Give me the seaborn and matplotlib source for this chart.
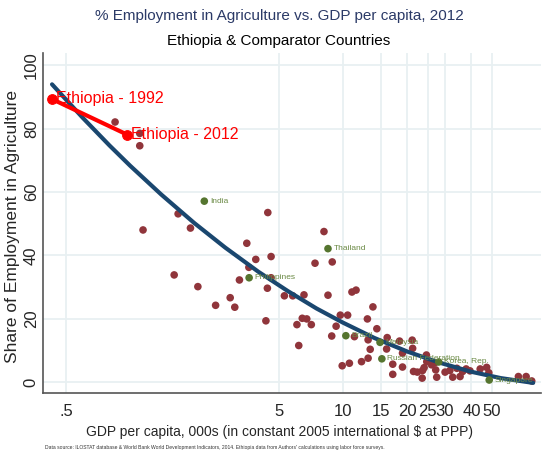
import matplotlib
matplotlib.use("Agg")
import matplotlib.pyplot as plt
import seaborn as sns

# ---------------------------------------------------
# data
# ---------------------------------------------------
gdp = [0.85, 1.11, 1.11, 1.15, 1.68, 1.92, 4.43, 3.53, 3.89, 4.59,
       3.61, 1.61, 2.08, 2.52, 2.95, 3.10, 3.26, 4.41, 4.59, 4.34,
       5.30, 5.80, 6.55, 8.49, 8.13, 7.38, 8.89, 11.0, 11.5, 9.7,
       10.5, 6.43, 6.75, 6.07, 7.09, 9.27, 8.84, 11.3, 13.8, 6.19,
       13.0, 14.4, 9.9, 10.7, 12.2, 13.1, 13.4, 13.1, 16.1, 16.0,
       17.1, 17.1, 18.4, 19.0, 19.0, 21.1, 21.2, 24.6, 21.4, 22.3,
       23.5, 23.6, 24.0, 24.7, 26.0, 27.0, 27.2, 27.5, 30.1, 31.7,
       32.7, 34.2, 35.4, 36.4, 37.8, 39.4, 44.0, 47.2, 48.3, 66.5,
       72.3, 76.8]
agri = [82.1, 78.5, 74.6, 48.0, 53.1, 48.6, 53.5, 43.8, 38.7, 39.6,
        36.2, 33.8, 30.1, 24.2, 26.6, 23.6, 32.2, 29.6, 32.9, 19.3,
        27.2, 27.2, 27.5, 27.4, 47.5, 37.5, 37.9, 28.4, 29.0, 21.1,
        21.1, 20.1, 19.9, 18.1, 18.1, 17.6, 14.5, 14.3, 23.7, 11.5,
        19.9, 16.8, 5.1, 5.9, 6.4, 7.5, 10.3, 13.3, 14.0, 10.4,
        5.6, 2.4, 12.9, 9.1, 4.7, 13.2, 10.6, 8.5, 3.3, 3.1,
        1.2, 3.6, 4.5, 6.4, 5.4, 6.1, 3.8, 1.5, 3.1, 3.6,
        1.5, 4.3, 1.7, 3.3, 4.1, 3.5, 4.1, 4.6, 2.9, 1.7,
        1.7, 0.3]

comp_names = ["India", "Philippines", "Thailand", "Brazil", "Malaysia",
              "Russian Federation", "Korea, Rep.", "Singapore"]
comp_gdp = [2.23, 3.62, 8.49, 10.3, 14.9, 15.2, 28.1, 48.5]
comp_agri = [57.1, 32.9, 42.1, 14.6, 12.5, 7.3, 6.3, 0.6]

eth_labels = ["Ethiopia - 1992", "Ethiopia - 2012"]
eth_gdp = [0.428, 0.97]
eth_agri = [89.4, 78.1]

# fitted curve
fit_gdp = [0.43, 0.6, 0.8, 1.0, 1.4, 2.0, 2.8, 4.0, 5.5, 7.5, 10, 14,
           20, 28, 40, 55, 78]
fit_agri = [94.0, 83.4, 74.7, 68.3, 59.2, 50.2, 42.4, 34.8, 28.7, 23.2,
            18.7, 13.9, 9.6, 6.2, 3.2, 1.2, -0.3]

xticks = [0.5, 5, 10, 15, 20, 25, 30, 40, 50]
xtick_labels = [".5", "5", "10", "15", "20", "25", "30", "40", "50"]
yticks = [0, 20, 40, 60, 80, 100]

# ---------------------------------------------------
# style
# ---------------------------------------------------
sns.set_style("white")
plt.rcParams["font.family"] = ["Liberation Sans", "DejaVu Sans"]

navy = "#1a476f"
maroon = "#90353b"
green = "#55752f"
grid_c = "#e8f0f2"

fig = plt.figure(figsize=(5.44, 4.5), dpi=100)
ax = fig.add_axes([43 / 544, 57 / 450, 498 / 544, 340 / 450])
ax.set_xscale("log")

for t in xticks:
    ax.axvline(t, color=grid_c, lw=1.3, zorder=0)
for t in yticks:
    ax.axhline(t, color=grid_c, lw=1.3, zorder=0)

sns.scatterplot(x=gdp, y=agri, color=maroon, s=30, edgecolor="none",
                ax=ax, zorder=2)
sns.lineplot(x=fit_gdp, y=fit_agri, color=navy, lw=3, ax=ax, zorder=3,
             estimator=None, sort=False)
sns.scatterplot(x=comp_gdp, y=comp_agri, color=green, s=30, edgecolor="none",
                ax=ax, zorder=4)
for n, x, y in zip(comp_names, comp_gdp, comp_agri):
    ax.annotate(n, (x, y), xytext=(4, 0), textcoords="offset points",
                va="center", ha="left", fontsize=6, color="#6b8a45", zorder=5)

sns.lineplot(x=eth_gdp, y=eth_agri, color="red", lw=3, marker="o",
             markersize=7, markeredgecolor="red", ax=ax, zorder=6,
             estimator=None, sort=False)
for n, x, y in zip(eth_labels, eth_gdp, eth_agri):
    ax.annotate(n, (x, y), xytext=(3, 0), textcoords="offset points",
                va="center", ha="left", fontsize=11.5, color="red", zorder=7)

ax.set_xlim(0.39, 84.9)
ax.set_ylim(-3.5, 103.9)
ax.set_xticks(xticks)
ax.set_xticklabels(xtick_labels, fontsize=12)
ax.minorticks_off()
ax.set_yticks(yticks)
ax.set_yticklabels([str(t) for t in yticks], fontsize=12, rotation=90,
                   va="center")
ax.tick_params(axis="x", direction="out", length=5, width=1, color="#555555", pad=3)
ax.tick_params(axis="y", direction="out", length=5, width=1, color="#555555", pad=-2)

for s in ["top", "right"]:
    ax.spines[s].set_visible(False)
for s in ["left", "bottom"]:
    ax.spines[s].set_color("#555555")
    ax.spines[s].set_linewidth(1.2)

ax.set_ylabel("Share of Employment in Agriculture", fontsize=12.5)
ax.yaxis.set_label_coords(-0.046, 0.49)
fig.text(0.513, 1 - 432 / 450,
         "GDP per capita, 000s (in constant 2005 international $ at PPP)",
         ha="center", va="center", fontsize=10)

fig.text(0.513, 1 - 16 / 450, "% Employment in Agriculture vs. GDP per capita, 2012",
         ha="center", va="center", fontsize=11, color="#2b3a67")
fig.text(0.513, 1 - 41 / 450, "Ethiopia & Comparator Countries",
         ha="center", va="center", fontsize=11, color="black")
fig.text(45 / 544, 1 - 447 / 450,
         "Data source: ILOSTAT database & World Bank World Development Indicators, 2014. "
         "Ethiopia data from Authors' calculations using labor force surveys.",
         ha="left", va="center", fontsize=3.6, color="#333333")

fig.savefig("out.png", dpi=100)
